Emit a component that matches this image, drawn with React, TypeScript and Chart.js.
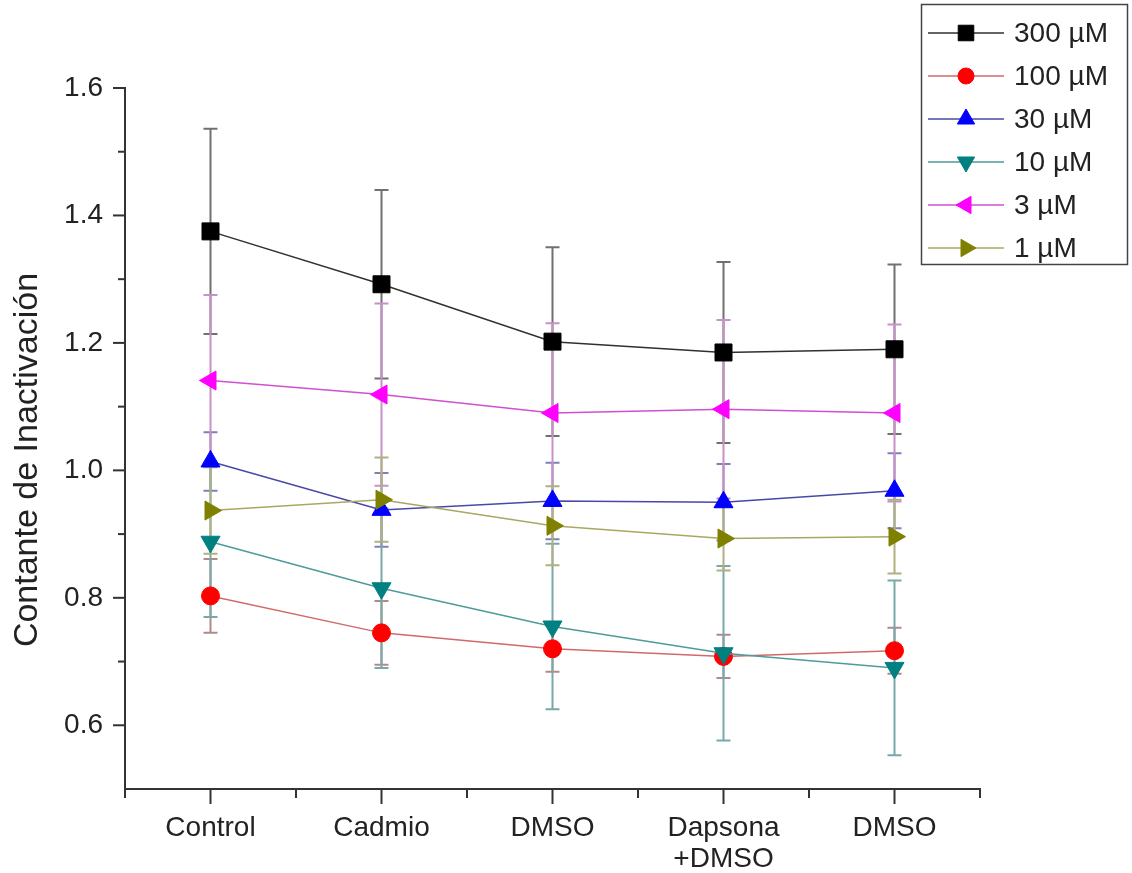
import React, { useEffect, useRef } from 'react';
import { Chart, registerables } from 'chart.js';
import { drawPoint } from 'chart.js/helpers';

Chart.register(...registerables);

// ---------- data ----------
const categories = ['Control', 'Cadmio', 'DMSO', 'Dapsona\n+DMSO', 'DMSO'];
const seriesLabels = ['300 µM', '100 µM', '30 µM', '10 µM', '3 µM', '1 µM'];

const mean300 = [1.375, 1.292, 1.202, 1.185, 1.190];
const err300 = [0.161, 0.148, 0.148, 0.142, 0.133];
const mean100 = [0.803, 0.745, 0.720, 0.708, 0.717];
const err100 = [0.058, 0.050, 0.036, 0.034, 0.036];
const mean30 = [1.014, 0.938, 0.952, 0.950, 0.968];
const err30 = [0.046, 0.058, 0.060, 0.060, 0.059];
const mean10 = [0.888, 0.815, 0.755, 0.713, 0.690];
const err10 = [0.118, 0.125, 0.130, 0.137, 0.137];
const mean3 = [1.141, 1.119, 1.090, 1.096, 1.090];
const err3 = [0.134, 0.143, 0.141, 0.140, 0.139];
const mean1 = [0.937, 0.954, 0.913, 0.893, 0.896];
const err1 = [0.068, 0.066, 0.062, 0.050, 0.058];

const allMeans = [mean300, mean100, mean30, mean10, mean3, mean1];
const allErrs = [err300, err100, err30, err10, err3, err1];

const yMin = 0.5;
const yMax = 1.6;
const yTickLabels = ['0.6', '0.8', '1.0', '1.2', '1.4', '1.6'];

// ---------- styles ----------
const markerColors = ['#000000', '#ff0000', '#0000ff', '#008080', '#ff00ff', '#808000'];
const lineColors = ['#303030', '#d06a6a', '#4848a8', '#4f9a9a', '#d050d0', '#a8a860'];
const errColors = ['#707070', '#b08a8a', '#8080b8', '#78a8a8', '#c890c8', '#b0b080'];
const pointStyles = ['rect', 'circle', 'triangle', 'triangle', 'triangle', 'triangle'];
const pointRotations = [0, 0, 0, 180, 270, 90];
const pointRadii = [12, 9, 11, 11, 11, 11];

const FONT = '"Liberation Sans", Arial, sans-serif';

const errorBarPlugin = {
  id: 'errorBars',
  beforeDatasetsDraw(chart: any) {
    const { ctx } = chart;
    const xs = chart.scales.x;
    const ys = chart.scales.y;
    ctx.save();
    chart.data.datasets.forEach((ds: any, di: number) => {
      const errs = allErrs[di];
      ctx.strokeStyle = errColors[di];
      ctx.lineWidth = 2;
      ds.data.forEach((p: any, i: number) => {
        const x = xs.getPixelForValue(p.x);
        const yt = ys.getPixelForValue(p.y + errs[i]);
        const yb = ys.getPixelForValue(p.y - errs[i]);
        ctx.beginPath();
        ctx.moveTo(x, yt);
        ctx.lineTo(x, yb);
        ctx.moveTo(x - 7, yt);
        ctx.lineTo(x + 7, yt);
        ctx.moveTo(x - 7, yb);
        ctx.lineTo(x + 7, yb);
        ctx.stroke();
      });
    });
    ctx.restore();
  },
};

const decorPlugin = {
  id: 'decor',
  afterDraw(chart: any) {
    const { ctx } = chart;
    const xs = chart.scales.x;
    const ys = chart.scales.y;
    ctx.save();
    // tick marks
    ctx.strokeStyle = '#333';
    ctx.lineWidth = 2;
    ys.ticks.forEach((t: any) => {
      const k = Math.round(t.value * 10);
      if (k === 5) return;
      const len = k % 2 === 0 ? 12 : 7;
      const y = ys.getPixelForValue(t.value);
      ctx.beginPath();
      ctx.moveTo(ys.right, y);
      ctx.lineTo(ys.right - len, y);
      ctx.stroke();
    });
    xs.ticks.forEach((t: any) => {
      const isMajor = Math.abs(t.value - Math.round(t.value)) < 1e-6;
      const len = isMajor ? 15 : 9;
      const x = xs.getPixelForValue(t.value);
      ctx.beginPath();
      ctx.moveTo(x, xs.top);
      ctx.lineTo(x, xs.top + len);
      ctx.stroke();
    });

    // y title
    ctx.save();
    ctx.translate(28, 460);
    ctx.rotate(-Math.PI / 2);
    ctx.fillStyle = '#222';
    ctx.font = `34px ${FONT}`;
    ctx.textAlign = 'center';
    ctx.textBaseline = 'middle';
    ctx.fillText('Contante de Inactivación', 0, 0);
    ctx.restore();

    // legend
    ctx.fillStyle = '#fff';
    ctx.fillRect(921, 4, 207, 261);
    ctx.strokeStyle = '#444';
    ctx.lineWidth = 1.5;
    ctx.strokeRect(921.5, 4.5, 206, 260);
    seriesLabels.forEach((lab, i) => {
      const y = 33 + 43 * i;
      ctx.strokeStyle = lineColors[i];
      ctx.lineWidth = 1.5;
      ctx.beginPath();
      ctx.moveTo(928, y);
      ctx.lineTo(1004, y);
      ctx.stroke();
      ctx.fillStyle = markerColors[i];
      ctx.strokeStyle = markerColors[i];
      ctx.lineWidth = 1;
      drawPoint(ctx, {
        pointStyle: pointStyles[i],
        rotation: pointRotations[i],
        radius: pointRadii[i] - 1,
        borderWidth: 1,
      } as any, 966, y);
      ctx.fillStyle = '#222';
      ctx.font = `28px ${FONT}`;
      ctx.textAlign = 'left';
      ctx.textBaseline = 'middle';
      ctx.fillText(lab, 1014, y + 1);
    });
    ctx.restore();
  },
};

export default function App() {
  const ref = useRef<HTMLCanvasElement | null>(null);

  useEffect(() => {
    if (!ref.current) return;
    const datasets = seriesLabels.map((lab, di) => ({
      label: lab,
      data: allMeans[di].map((v, i) => ({ x: i, y: v })),
      borderColor: lineColors[di],
      borderWidth: 1.5,
      backgroundColor: markerColors[di],
      pointStyle: pointStyles[di],
      rotation: pointRotations[di],
      pointRadius: pointRadii[di],
      pointBackgroundColor: markerColors[di],
      pointBorderColor: markerColors[di],
      pointBorderWidth: 1,
      tension: 0,
      fill: false,
      order: seriesLabels.length - di,
    }));

    const chart = new Chart(ref.current, {
      type: 'line',
      data: { datasets },
      options: {
        responsive: false,
        animation: false,
        devicePixelRatio: 1,
        layout: { padding: { top: 88, right: 152, left: 0, bottom: 0 } },
        plugins: {
          legend: { display: false },
          tooltip: { enabled: false },
        },
        scales: {
          x: {
            type: 'linear',
            min: -0.5,
            max: 4.5,
            afterFit: (s: any) => {
              s.height = 84;
            },
            border: { display: true, color: '#333', width: 2 },
            grid: {
              display: true,
              drawOnChartArea: false,
              drawTicks: true,
              tickLength: 15,
              tickColor: 'rgba(0,0,0,0)',
            },
            ticks: {
              stepSize: 0.5,
              autoSkip: false,
              maxRotation: 0,
              minRotation: 0,
              padding: 9,
              color: '#222',
              font: { family: FONT, size: 28, lineHeight: 1.1 },
              callback: (v: any) => {
                const r = Math.round(v);
                return Math.abs(v - r) < 1e-6 && categories[r] ? categories[r].split('\n') : '';
              },
            },
          },
          y: {
            type: 'linear',
            min: yMin,
            max: yMax,
            afterFit: (s: any) => {
              s.width = 125;
            },
            border: { display: true, color: '#333', width: 2 },
            grid: {
              display: true,
              drawOnChartArea: false,
              drawTicks: true,
              tickLength: 12,
              tickColor: 'rgba(0,0,0,0)',
            },
            ticks: {
              stepSize: 0.1,
              autoSkip: false,
              padding: 10,
              color: '#222',
              font: { family: FONT, size: 28 },
              callback: (v: any) => {
                const k = Math.round(v * 10);
                const s = (k / 10).toFixed(1);
                return yTickLabels.includes(s) ? s : '';
              },
            },
          },
        },
      },
      plugins: [errorBarPlugin, decorPlugin],
    } as any);
    return () => chart.destroy();
  }, []);

  return (
    <div style={{ position: 'absolute', left: 0, top: 0, width: 1132, height: 873, background: '#fff' }}>
      <canvas ref={ref} width={1132} height={873} style={{ width: 1132, height: 873, display: 'block' }} />
    </div>
  );
}
